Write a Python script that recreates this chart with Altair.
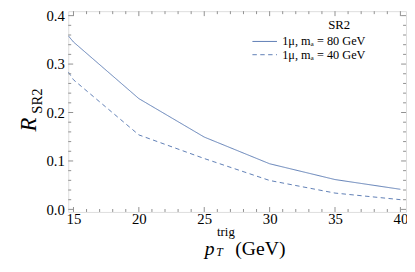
import altair as alt
import pandas as pd

# ---------------- data ----------------
pt_trig = [14.6, 15, 20, 25, 30, 35, 40]
r_ma80 = [0.3585, 0.3456, 0.2287, 0.1493, 0.0942, 0.0616, 0.0415]
r_ma40 = [0.2838, 0.2676, 0.1538, 0.1050, 0.0597, 0.0337, 0.0201]
series_names = ["1μ, mₐ = 80 GeV", "1μ, mₐ = 40 GeV"]
legend_title = "SR2"

x_major = [15, 20, 25, 30, 35, 40]
x_minor = [16, 17, 18, 19, 21, 22, 23, 24, 26, 27, 28, 29,
           31, 32, 33, 34, 36, 37, 38, 39]
y_major = [0.0, 0.1, 0.2, 0.3, 0.4]
y_minor = [0.02, 0.04, 0.06, 0.08, 0.12, 0.14, 0.16, 0.18,
           0.22, 0.24, 0.26, 0.28, 0.32, 0.34, 0.36, 0.38]
x_domain = [14.6, 40.43]
y_domain = [-0.0053, 0.4092]

# ---------------- styling ----------------
W, H = 343.7, 204.3
FONT = "Liberation Serif"
LINE = "#5E7DB5"
GRAY = "#8f8f8f"
MAJ, MIN = 5, 3

rows = []
for name, vals in zip(series_names, [r_ma80, r_ma40]):
    for x, v in zip(pt_trig, vals):
        rows.append({"pt": x, "R": v, "series": name})
df = pd.DataFrame(rows)

xs = alt.Scale(domain=x_domain, nice=False, zero=False)
ys = alt.Scale(domain=y_domain, nice=False, zero=False)

label_x = alt.Axis(orient="bottom", values=x_major, ticks=False, domain=False,
                   grid=False, labelFont=FONT, labelFontSize=15,
                   labelColor="black", labelPadding=0, title=None, format="d",
                   labelFlush=False)
label_y = alt.Axis(orient="left", values=y_major, ticks=False, domain=False,
                   grid=False, labelFont=FONT, labelFontSize=15,
                   labelColor="black", labelPadding=4, title=None,
                   format=".1f", labelFlush=False)

lines = alt.Chart(df).mark_line(color=LINE, strokeWidth=1, clip=True).encode(
    x=alt.X("pt:Q", scale=xs, axis=label_x),
    y=alt.Y("R:Q", scale=ys, axis=label_y),
    strokeDash=alt.StrokeDash("series:N",
                              scale=alt.Scale(domain=series_names,
                                              range=[[1, 0], [4.5, 3.5]]),
                              legend=None),
)


# inward frame ticks on all four sides, positioned through the scales
def xticks(values, length, top):
    y0 = 0 if top else H
    y1 = length if top else H - length
    return alt.Chart(pd.DataFrame({"pt": values})).mark_rule(
        color=GRAY, strokeWidth=1).encode(
        x=alt.X("pt:Q", scale=xs, axis=None), y=alt.value(y0), y2=alt.value(y1))


def yticks(values, length, right):
    x0 = W if right else 0
    x1 = W - length if right else length
    return alt.Chart(pd.DataFrame({"R": values})).mark_rule(
        color=GRAY, strokeWidth=1).encode(
        y=alt.Y("R:Q", scale=ys, axis=None), x=alt.value(x0), x2=alt.value(x1))


ticks = [
    xticks(x_major, MAJ, False), xticks(x_minor, MIN, False),
    xticks(x_major, MAJ, True), xticks(x_minor, MIN, True),
    yticks(y_major, MAJ, False), yticks(y_minor, MIN, False),
    yticks(y_major, MAJ, True), yticks(y_minor, MIN, True),
]


def text(t, x, y, size, italic=False, align="left", angle=0, baseline="alphabetic"):
    kw = dict(font=FONT, fontSize=size, color="black", align=align,
              baseline=baseline, fontWeight="normal")
    if italic:
        kw["fontStyle"] = "italic"
    if angle:
        kw["angle"] = angle
    return alt.Chart(pd.DataFrame({"t": [t]})).mark_text(**kw).encode(
        text="t:N", x=alt.value(x), y=alt.value(y))


# axis titles (sub/superscripts built from pieces)
titles = [
    text("R", -32.6, 122.5, 23, italic=True, angle=270),
    text("SR2", -26.3, 104.4, 15, angle=270),
    text("p", 139.0, 247.7, 20, italic=True),
    text("trig", 151.4, 228.8, 13),
    text("T", 150.7, 249.0, 12, italic=True),
    text("(GeV)", 170.0, 247.7, 20),
]

# legend
legend = [
    text(legend_title, 275.7, 14.2, 13, align="center", baseline="middle"),
    alt.Chart(pd.DataFrame({"s": [series_names[0]]})).mark_rule(
        color=LINE, strokeWidth=1).encode(
        x=alt.value(187.4), x2=alt.value(212.4), y=alt.value(30.8)),
    alt.Chart(pd.DataFrame({"s": [series_names[1]]})).mark_rule(
        color=LINE, strokeWidth=1, strokeDash=[4.5, 3.5]).encode(
        x=alt.value(187.4), x2=alt.value(212.4), y=alt.value(44.3)),
    text(series_names[0], 217.7, 30.8, 12.5, baseline="middle"),
    text(series_names[1], 217.7, 44.3, 12.5, baseline="middle"),
]

chart = alt.layer(lines, *ticks, *titles, *legend).resolve_axis(
    x="independent", y="independent"
).properties(
    width=W, height=H,
    autosize=alt.AutoSizeParams(type="none"),
    padding={"left": 61.3, "top": 1, "right": 1, "bottom": 50},
).configure_view(stroke=GRAY, strokeWidth=1).configure(background="white")

chart.save("out.html", embed_options={"renderer": "svg", "actions": False})
